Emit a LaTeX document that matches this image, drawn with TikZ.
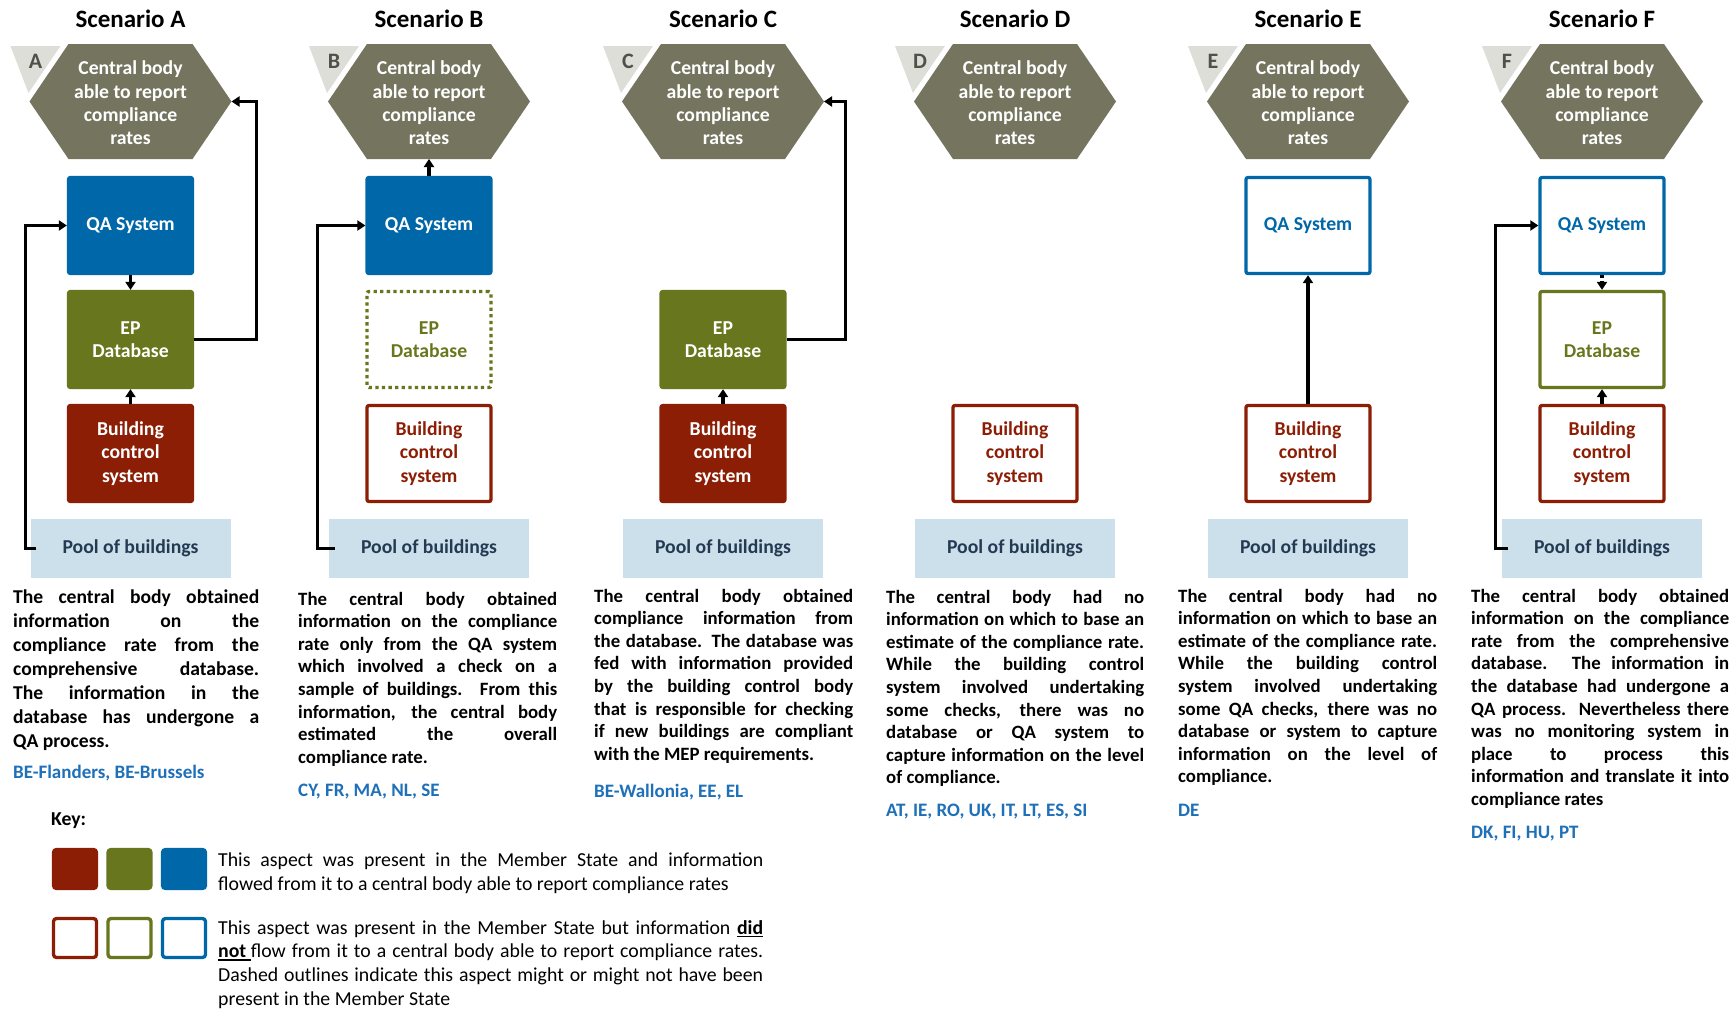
\documentclass[tikz,border=0pt]{standalone}
\usepackage{fontspec}
\setmainfont{Carlito}
\usetikzlibrary{arrows.meta}

\definecolor{hexfill}{RGB}{117,116,95}
\definecolor{trifill}{RGB}{221,222,216}
\definecolor{trilabel}{RGB}{80,80,72}
\definecolor{qablue}{RGB}{0,103,168}
\definecolor{epgreen}{RGB}{104,119,29}
\definecolor{bcsred}{RGB}{140,30,5}
\definecolor{poolfill}{RGB}{204,224,236}
\definecolor{pooltext}{RGB}{35,58,82}
\definecolor{ctryblue}{RGB}{30,112,184}

% one justified line and one natural (last) line of a paragraph
\newcommand{\jline}[1]{\hbox to \hsize{\spaceskip=\fontdimen2\font plus 1fil minus \fontdimen4\font\relax #1}}
\newcommand{\lline}[1]{\hbox{#1}}
\newcommand{\ulin}[1]{\setbox0\hbox{#1}\rlap{\rule[-3pt]{\wd0}{1.4pt}}\box0}
\newcommand{\bxfont}{\fontsize{19.7}{23.5}\selectfont\bfseries}

\tikzset{
  box/.style={rectangle, rounded corners=2pt, minimum width=124pt, minimum height=96pt,
    inner sep=0pt, line width=3.3pt, align=center, font=\bxfont},
  qafull/.style={box, fill=qablue, draw=qablue, text=white},
  qaline/.style={box, fill=white, draw=qablue, text=qablue},
  epfull/.style={box, fill=epgreen, draw=epgreen, text=white},
  epline/.style={box, fill=white, draw=epgreen, text=epgreen},
  epdot/.style={box, fill=white, draw=epgreen, text=epgreen, dash pattern=on 3.3pt off 3.3pt},
  bcsfull/.style={box, fill=bcsred, draw=bcsred, text=white},
  bcsline/.style={box, fill=white, draw=bcsred, text=bcsred},
  pool/.style={rectangle, fill=poolfill, minimum width=200pt, minimum height=59pt, inner sep=0pt,
    text=pooltext, font=\bxfont},
  hextext/.style={align=center, text=white, font=\fontsize{19.7}{23.3}\selectfont\bfseries, inner sep=0pt},
  title/.style={font=\fontsize{25}{30}\selectfont\bfseries, inner sep=0pt},
  trilbl/.style={text=trilabel, font=\fontsize{22}{26}\selectfont\bfseries, inner sep=0pt},
  conn/.style={line width=3.3pt, draw=black, -{Triangle[length=8pt,width=10pt]}},
  dotconn/.style={conn, dash pattern=on 3pt off 3pt},
  desc/.style={anchor=base west, inner sep=0pt},
  ctry/.style={anchor=base west, inner sep=0pt, text=ctryblue, font=\fontsize{19}{23}\selectfont\bfseries},
  keysq/.style={rectangle, rounded corners=3pt, minimum width=43pt, minimum height=39pt,
    inner sep=0pt, line width=3.3pt},
}

\begin{document}
\begin{tikzpicture}[x=1pt, y=-1pt]
\useasboundingbox (0,0) rectangle (1733,1010);
\fill[white] (0,0) rectangle (1733,1010);

% common parts of every scenario: title, central body, letter tab, pool
\foreach \n/\cx in {A/130.5,B/429,C/723,D/1015,E/1308,F/1602} {
  \node[title] (ttl\n) at (\cx,19) {Scenario \n};
  \fill[hexfill] (\cx-62,44) -- (\cx+62,44) -- (\cx+101,101.5) -- (\cx+62,159)
    -- (\cx-62,159) -- (\cx-101,101.5) -- cycle;
  \coordinate (tip\n) at (\cx+101,101.5);
  \coordinate (bot\n) at (\cx,159);
  \node[hextext] (hex\n) at (\cx,103) {Central body\\able to report\\compliance\\rates};
  \fill[trifill] (\cx-120,46) -- (\cx-70,46) -- (\cx-102,93) -- cycle;
  \node[trilbl] (lbl\n) at (\cx-95,61) {\n};
  \node[pool] (pool\n) at (\cx,548.5) {Pool of buildings};
}

% Scenario A
\node[qafull] (qaA) at (130.5,225.5) {QA System};
\node[epfull] (epA) at (130.5,339.5) {EP\\Database};
\node[bcsfull] (bcsA) at (130.5,453.5) {Building\\control\\system};
\draw[conn] ([xshift=6pt]poolA.west) -- ++(-10.5,0) |- (qaA.west);
\draw[conn] (epA.east) -- ++(62,0) |- (tipA);
\draw[conn] (qaA.south) -- (epA.north);
\draw[conn] (bcsA.north) -- (epA.south);

% Scenario B
\node[qafull] (qaB) at (429,225.5) {QA System};
\node[epdot] (epB) at (429,339.5) {EP\\Database};
\node[bcsline] (bcsB) at (429,453.5) {Building\\control\\system};
\draw[conn] ([xshift=6pt]poolB.west) -- ++(-17,0) |- (qaB.west);
\draw[conn] (qaB.north) -- (botB);

% Scenario C
\node[epfull] (epC) at (723,339.5) {EP\\Database};
\node[bcsfull] (bcsC) at (723,453.5) {Building\\control\\system};
\draw[conn] (bcsC.north) -- (epC.south);
\draw[conn] (epC.east) -- ++(58.5,0) |- (tipC);

% Scenario D
\node[bcsline] (bcsD) at (1015,453.5) {Building\\control\\system};

% Scenario E
\node[qaline] (qaE) at (1308,225.5) {QA System};
\node[bcsline] (bcsE) at (1308,453.5) {Building\\control\\system};
\draw[conn] (bcsE.north) -- (qaE.south);

% Scenario F
\node[qaline] (qaF) at (1602,225.5) {QA System};
\node[epline] (epF) at (1602,339.5) {EP\\Database};
\node[bcsline] (bcsF) at (1602,453.5) {Building\\control\\system};
\draw[conn] ([xshift=6pt]poolF.west) -- ++(-12,0) |- (qaF.west);
\draw[dotconn] (qaF.south) -- (epF.north);
\draw[conn] (bcsF.north) -- (epF.south);

% descriptions
\node[desc] (txtA) at (13,603) {\parbox[t]{246pt}{\fontsize{19.6}{24}\selectfont\bfseries
  \jline{The central body obtained}
  \jline{information on the}
  \jline{compliance rate from the}
  \jline{comprehensive database.}
  \jline{The information in the}
  \jline{database has undergone a}
  \lline{QA process.}}};
\node[desc] (txtB) at (298,605) {\parbox[t]{259pt}{\fontsize{18.8}{22.6}\selectfont\bfseries
  \jline{The central body obtained}
  \jline{information on the compliance}
  \jline{rate only from the QA system}
  \jline{which involved a check on a}
  \jline{sample of buildings. From this}
  \jline{information, the central body}
  \jline{estimated the overall}
  \lline{compliance rate.}}};
\node[desc] (txtC) at (594,602) {\parbox[t]{259pt}{\fontsize{18.8}{22.6}\selectfont\bfseries
  \jline{The central body obtained}
  \jline{compliance information from}
  \jline{the database. The database was}
  \jline{fed with information provided}
  \jline{by the building control body}
  \jline{that is responsible for checking}
  \jline{if new buildings are compliant}
  \lline{with the MEP requirements.}}};
\node[desc] (txtD) at (886,603) {\parbox[t]{258pt}{\fontsize{18.8}{22.6}\selectfont\bfseries
  \jline{The central body had no}
  \jline{information on which to base an}
  \jline{estimate of the compliance rate.}
  \jline{While the building control}
  \jline{system involved undertaking}
  \jline{some checks, there was no}
  \jline{database or QA system to}
  \jline{capture information on the level}
  \lline{of compliance.}}};
\node[desc] (txtE) at (1178,602) {\parbox[t]{259pt}{\fontsize{18.8}{22.6}\selectfont\bfseries
  \jline{The central body had no}
  \jline{information on which to base an}
  \jline{estimate of the compliance rate.}
  \jline{While the building control}
  \jline{system involved undertaking}
  \jline{some QA checks, there was no}
  \jline{database or system to capture}
  \jline{information on the level of}
  \lline{compliance.}}};
\node[desc] (txtF) at (1471,602) {\parbox[t]{258pt}{\fontsize{18.8}{22.6}\selectfont\bfseries
  \jline{The central body obtained}
  \jline{information on the compliance}
  \jline{rate from the comprehensive}
  \jline{database. The information in}
  \jline{the database had undergone a}
  \jline{QA process. Nevertheless there}
  \jline{was no monitoring system in}
  \jline{place to process this}
  \jline{information and translate it into}
  \lline{compliance rates}}};

% member states per scenario
\node[ctry] (ctA) at (13,778) {BE-Flanders, BE-Brussels};
\node[ctry] (ctB) at (298,796) {CY, FR, MA, NL, SE};
\node[ctry] (ctC) at (594,797) {BE-Wallonia, EE, EL};
\node[ctry] (ctD) at (886,816) {AT, IE, RO, UK, IT, LT, ES, SI};
\node[ctry] (ctE) at (1178,816) {DE};
\node[ctry] (ctF) at (1471,838) {DK, FI, HU, PT};

% key
\node[anchor=base west, inner sep=0pt, font=\fontsize{19.7}{24}\selectfont\bfseries] (keyttl) at (51,825) {Key:};
\node[keysq, fill=bcsred, draw=bcsred] (kf1) at (75,869) {};
\node[keysq, fill=epgreen, draw=epgreen] (kf2) at (129.5,869) {};
\node[keysq, fill=qablue, draw=qablue] (kf3) at (184,869) {};
\node[keysq, fill=white, draw=bcsred] (ko1) at (75,938) {};
\node[keysq, fill=white, draw=epgreen] (ko2) at (129.5,938) {};
\node[keysq, fill=white, draw=qablue] (ko3) at (184,938) {};
\node[desc] (key1) at (218,866) {\parbox[t]{545pt}{\fontsize{19.8}{24}\selectfont
  \jline{This aspect was present in the Member State and information}
  \lline{flowed from it to a central body able to report compliance rates}}};
\node[desc] (key2) at (218,934) {\parbox[t]{545pt}{\fontsize{19.8}{23.7}\selectfont
  \jline{This aspect was present in the Member State but information \ulin{\textbf{did}}}
  \jline{\ulin{\textbf{not}\ }flow from it to a central body able to report compliance rates.}
  \jline{Dashed outlines indicate this aspect might or might not have been}
  \lline{present in the Member State}}};
\end{tikzpicture}
\end{document}
